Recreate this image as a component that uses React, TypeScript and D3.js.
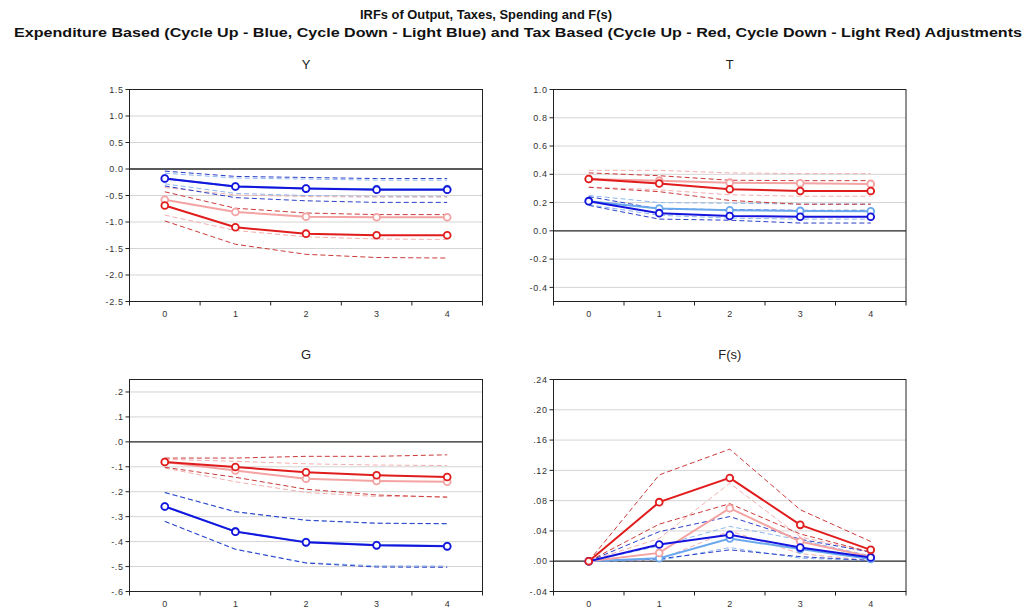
import React from "react";
import * as d3 from "d3";

// ---------- data ----------
const HORIZONS = [0, 1, 2, 3, 4];
const X_LABELS = ["0", "1", "2", "3", "4"];

const TITLE_1 = "IRFs of Output, Taxes, Spending and F(s)";
const TITLE_2 =
  "Expenditure Based (Cycle Up - Blue, Cycle Down - Light Blue) and Tax Based (Cycle Up - Red, Cycle Down - Light Red) Adjustments";

// Y (output)
const Y_TICKS = [1.5, 1.0, 0.5, 0.0, -0.5, -1.0, -1.5, -2.0, -2.5];
const Y_TICK_LABELS = ["1.5", "1.0", "0.5", "0.0", "-0.5", "-1.0", "-1.5", "-2.0", "-2.5"];
const Y_EB_UP = [-0.18, -0.33, -0.37, -0.39, -0.39];
const Y_EB_UP_HI = [-0.04, -0.14, -0.16, -0.18, -0.18];
const Y_EB_UP_LO = [-0.32, -0.54, -0.6, -0.63, -0.63];
const Y_EB_DN = [-0.18, -0.33, -0.37, -0.38, -0.38];
const Y_EB_DN_HI = [-0.08, -0.17, -0.19, -0.21, -0.21];
const Y_EB_DN_LO = [-0.28, -0.46, -0.5, -0.52, -0.52];
const Y_TB_UP = [-0.69, -1.1, -1.22, -1.25, -1.25];
const Y_TB_UP_HI = [-0.43, -0.74, -0.83, -0.86, -0.86];
const Y_TB_UP_LO = [-0.98, -1.42, -1.61, -1.67, -1.68];
const Y_TB_DN = [-0.58, -0.81, -0.9, -0.91, -0.91];
const Y_TB_DN_HI = [-0.35, -0.49, -0.52, -0.53, -0.53];
const Y_TB_DN_LO = [-0.87, -1.16, -1.28, -1.32, -1.33];

// T (taxes)
const T_TICKS = [1.0, 0.8, 0.6, 0.4, 0.2, 0.0, -0.2, -0.4];
const T_TICK_LABELS = ["1.0", "0.8", "0.6", "0.4", "0.2", "0.0", "-0.2", "-0.4"];
const T_EB_UP = [0.21, 0.125, 0.105, 0.1, 0.1];
const T_EB_UP_HI = [0.242, 0.155, 0.15, 0.145, 0.145];
const T_EB_UP_LO = [0.18, 0.083, 0.075, 0.055, 0.055];
const T_EB_DN = [0.21, 0.158, 0.146, 0.141, 0.138];
const T_EB_DN_HI = [0.25, 0.2, 0.195, 0.19, 0.19];
const T_EB_DN_LO = [0.185, 0.11, 0.09, 0.083, 0.083];
const T_TB_UP = [0.367, 0.335, 0.294, 0.282, 0.282];
const T_TB_UP_HI = [0.41, 0.39, 0.358, 0.355, 0.355];
const T_TB_UP_LO = [0.308, 0.277, 0.215, 0.188, 0.188];
const T_TB_DN = [0.367, 0.355, 0.341, 0.336, 0.332];
const T_TB_DN_HI = [0.428, 0.428, 0.41, 0.405, 0.405];
const T_TB_DN_LO = [0.31, 0.29, 0.255, 0.245, 0.245];

// G (spending)
const G_TICKS = [0.2, 0.1, 0.0, -0.1, -0.2, -0.3, -0.4, -0.5, -0.6];
const G_TICK_LABELS = [".2", ".1", ".0", "-.1", "-.2", "-.3", "-.4", "-.5", "-.6"];
const G_EB_UP = [-0.259, -0.36, -0.403, -0.415, -0.419];
const G_EB_UP_HI = [-0.203, -0.28, -0.314, -0.326, -0.328];
const G_EB_UP_LO = [-0.319, -0.431, -0.486, -0.502, -0.503];
const G_EB_DN = [-0.259, -0.359, -0.402, -0.414, -0.418];
const G_EB_DN_HI = [-0.204, -0.281, -0.315, -0.327, -0.329];
const G_EB_DN_LO = [-0.318, -0.43, -0.484, -0.497, -0.498];
const G_TB_UP = [-0.081, -0.101, -0.122, -0.134, -0.141];
const G_TB_UP_HI = [-0.065, -0.065, -0.058, -0.058, -0.052];
const G_TB_UP_LO = [-0.102, -0.142, -0.19, -0.213, -0.222];
const G_TB_DN = [-0.081, -0.115, -0.148, -0.157, -0.16];
const G_TB_DN_HI = [-0.07, -0.078, -0.088, -0.093, -0.095];
const G_TB_DN_LO = [-0.105, -0.16, -0.203, -0.219, -0.22];

// F(s)
const F_TICKS = [0.24, 0.2, 0.16, 0.12, 0.08, 0.04, 0.0, -0.04];
const F_TICK_LABELS = [".24", ".20", ".16", ".12", ".08", ".04", ".00", "-.04"];
const F_EB_UP = [0, 0.022, 0.035, 0.018, 0.005];
const F_EB_UP_HI = [0, 0.039, 0.059, 0.029, 0.012];
const F_EB_UP_LO = [0, 0.003, 0.015, 0.006, 0.001];
const F_EB_DN = [0, 0.004, 0.03, 0.016, 0.003];
const F_EB_DN_HI = [0, 0.02, 0.046, 0.028, 0.007];
const F_EB_DN_LO = [0, 0.001, 0.018, 0.004, 0.001];
const F_TB_UP = [0, 0.078, 0.11, 0.048, 0.015];
const F_TB_UP_HI = [0, 0.114, 0.148, 0.068, 0.026];
const F_TB_UP_LO = [0, 0.049, 0.076, 0.036, 0.012];
const F_TB_DN = [0, 0.011, 0.07, 0.026, 0.006];
const F_TB_DN_HI = [0, 0.03, 0.103, 0.032, 0.012];
const F_TB_DN_LO = [0, 0.002, 0.04, 0.01, 0.001];

// ---------- styles ----------
const COL = {
  ebUp: "#1414dc",
  ebUpBand: "#2b3fc8",
  ebDn: "#6aa8ee",
  ebDnBand: "#8cb8f0",
  tbUp: "#e01c1c",
  tbUpBand: "#cc3a3a",
  tbDn: "#f4a3a3",
  tbDnBand: "#f2b0b0",
};

type Series = { mean: number[]; hi: number[]; lo: number[]; col: string; band: string };

type PanelProps = {
  title: string;
  left: number;
  right: number;
  top: number;
  bottom: number;
  domain: [number, number];
  ticks: number[];
  tickLabels: string[];
  series: Series[]; // draw order
};

const FONT = "'Liberation Sans', Arial, sans-serif";

function Panel(p: PanelProps) {
  const x = d3.scaleLinear().domain([-0.5, 4.5]).range([p.left, p.right]);
  const y = d3.scaleLinear().domain(p.domain).range([p.bottom, p.top]);
  const line = d3
    .line<number>()
    .x((_, i) => x(HORIZONS[i]))
    .y((v) => y(v));
  const minorTicks = d3.range(-0.5, 5, 1);
  return (
    <g>
      <text
        x={(p.left + p.right) / 2}
        y={p.top - 21}
        textAnchor="middle"
        fontFamily={FONT}
        fontSize={13}
        fill="#222"
      >
        {p.title}
      </text>
      {/* gridlines */}
      {p.ticks.map((t) =>
        Math.abs(t) < 1e-9 ? null : (
          <line
            key={"g" + t}
            x1={p.left}
            x2={p.right}
            y1={y(t)}
            y2={y(t)}
            stroke="#d4d4d4"
            strokeWidth={1}
          />
        )
      )}
      {/* zero line */}
      <line x1={p.left} x2={p.right} y1={y(0)} y2={y(0)} stroke="#222" strokeWidth={1.3} />
      {/* bands */}
      {p.series.map((s, si) => (
        <g key={"b" + si}>
          <path d={line(s.hi) || ""} fill="none" stroke={s.band} strokeWidth={1} strokeDasharray="5,3" />
          <path d={line(s.lo) || ""} fill="none" stroke={s.band} strokeWidth={1} strokeDasharray="5,3" />
        </g>
      ))}
      {/* mean lines */}
      {p.series.map((s, si) => (
        <g key={"m" + si}>
          <path d={line(s.mean) || ""} fill="none" stroke={s.col} strokeWidth={2} />
          {s.mean.map((v, i) => (
            <circle
              key={i}
              cx={x(HORIZONS[i])}
              cy={y(v)}
              r={3.4}
              fill="#fff"
              stroke={s.col}
              strokeWidth={1.8}
            />
          ))}
        </g>
      ))}
      {/* frame */}
      <rect
        x={p.left}
        y={p.top}
        width={p.right - p.left}
        height={p.bottom - p.top}
        fill="none"
        stroke="#222"
        strokeWidth={1}
      />
      {/* y ticks */}
      {p.ticks.map((t, i) => (
        <g key={"yt" + t}>
          <line x1={p.left - 4} x2={p.left} y1={y(t)} y2={y(t)} stroke="#222" strokeWidth={1} />
          <text
            x={p.left - 6}
            y={y(t)}
            dy="0.35em"
            textAnchor="end"
            fontFamily={FONT}
            fontSize={9}
            letterSpacing={0.6}
            fill="#333"
          >
            {p.tickLabels[i]}
          </text>
        </g>
      ))}
      {/* x ticks */}
      {minorTicks.map((t) => (
        <line key={"xt" + t} x1={x(t)} x2={x(t)} y1={p.bottom} y2={p.bottom + 4} stroke="#222" strokeWidth={1} />
      ))}
      {HORIZONS.map((h, i) => (
        <text
          key={"xl" + h}
          x={x(h)}
          y={p.bottom + 15}
          textAnchor="middle"
          fontFamily={FONT}
          fontSize={9}
          fill="#333"
        >
          {X_LABELS[i]}
        </text>
      ))}
    </g>
  );
}

function mk(mean: number[], hi: number[], lo: number[], col: string, band: string): Series {
  return { mean, hi, lo, col, band };
}

export default function App() {
  const L = { left: 129.5, right: 482.5 };
  const R = { left: 553.5, right: 906 };
  const TOP = { top: 89.5, bottom: 301.5 };
  const BOT = { top: 379.5, bottom: 591.5 };
  return (
    <svg
      width={1032}
      height={610}
      style={{ position: "absolute", left: 0, top: 0, background: "#fff" }}
    >
      <rect x={0} y={0} width={1032} height={610} fill="#fff" />
      <text
        x={486}
        y={18.5}
        textAnchor="middle"
        fontFamily={FONT}
        fontWeight="bold"
        fontSize={13.5}
        fill="#111"
        textLength={252}
        lengthAdjust="spacingAndGlyphs"
      >
        {TITLE_1}
      </text>
      <text
        x={518}
        y={37}
        textAnchor="middle"
        fontFamily={FONT}
        fontWeight="bold"
        fontSize={13.5}
        fill="#111"
        textLength={1008}
        lengthAdjust="spacingAndGlyphs"
      >
        {TITLE_2}
      </text>
      <Panel
        title="Y"
        {...L}
        {...TOP}
        domain={[-2.5, 1.5]}
        ticks={Y_TICKS}
        tickLabels={Y_TICK_LABELS}
        series={[
          mk(Y_EB_DN, Y_EB_DN_HI, Y_EB_DN_LO, COL.ebDn, COL.ebDnBand),
          mk(Y_TB_DN, Y_TB_DN_HI, Y_TB_DN_LO, COL.tbDn, COL.tbDnBand),
          mk(Y_EB_UP, Y_EB_UP_HI, Y_EB_UP_LO, COL.ebUp, COL.ebUpBand),
          mk(Y_TB_UP, Y_TB_UP_HI, Y_TB_UP_LO, COL.tbUp, COL.tbUpBand),
        ]}
      />
      <Panel
        title="T"
        {...R}
        {...TOP}
        domain={[-0.5, 1.0]}
        ticks={T_TICKS}
        tickLabels={T_TICK_LABELS}
        series={[
          mk(T_EB_DN, T_EB_DN_HI, T_EB_DN_LO, COL.ebDn, COL.ebDnBand),
          mk(T_TB_DN, T_TB_DN_HI, T_TB_DN_LO, COL.tbDn, COL.tbDnBand),
          mk(T_EB_UP, T_EB_UP_HI, T_EB_UP_LO, COL.ebUp, COL.ebUpBand),
          mk(T_TB_UP, T_TB_UP_HI, T_TB_UP_LO, COL.tbUp, COL.tbUpBand),
        ]}
      />
      <Panel
        title="G"
        {...L}
        {...BOT}
        domain={[-0.6, 0.25]}
        ticks={G_TICKS}
        tickLabels={G_TICK_LABELS}
        series={[
          mk(G_EB_DN, G_EB_DN_HI, G_EB_DN_LO, COL.ebDn, COL.ebDnBand),
          mk(G_TB_DN, G_TB_DN_HI, G_TB_DN_LO, COL.tbDn, COL.tbDnBand),
          mk(G_EB_UP, G_EB_UP_HI, G_EB_UP_LO, COL.ebUp, COL.ebUpBand),
          mk(G_TB_UP, G_TB_UP_HI, G_TB_UP_LO, COL.tbUp, COL.tbUpBand),
        ]}
      />
      <Panel
        title="F(s)"
        {...R}
        {...BOT}
        domain={[-0.04, 0.24]}
        ticks={F_TICKS}
        tickLabels={F_TICK_LABELS}
        series={[
          mk(F_EB_DN, F_EB_DN_HI, F_EB_DN_LO, COL.ebDn, COL.ebDnBand),
          mk(F_TB_DN, F_TB_DN_HI, F_TB_DN_LO, COL.tbDn, COL.tbDnBand),
          mk(F_EB_UP, F_EB_UP_HI, F_EB_UP_LO, COL.ebUp, COL.ebUpBand),
          mk(F_TB_UP, F_TB_UP_HI, F_TB_UP_LO, COL.tbUp, COL.tbUpBand),
        ]}
      />
    </svg>
  );
}
